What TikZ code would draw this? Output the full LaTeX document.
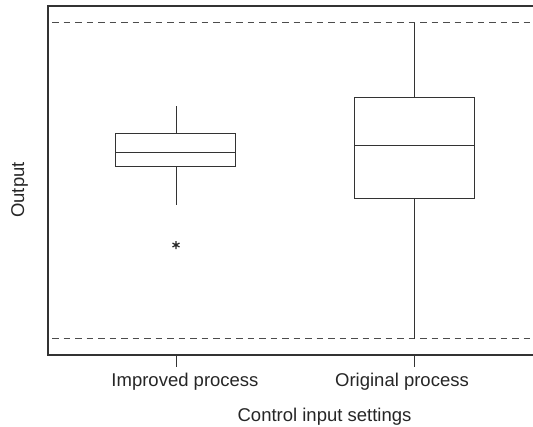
\documentclass[tikz,border=0pt]{standalone}
\usepackage{fontspec}
\setmainfont{Liberation Sans}
\usetikzlibrary{plotmarks}
\begin{document}
\begin{tikzpicture}[x=1pt,y=-1pt,
  frame/.style={draw=black!80,line width=1.4pt},
  boxline/.style={draw=black!80,line width=1pt},
  limit/.style={draw=black!70,line width=1.4pt,dash pattern=on 6.5pt off 5pt,dash phase=-3pt},
  lbl/.style={font=\fontsize{18.5}{20}\selectfont,text=black!85,inner sep=0pt,anchor=base}]
\useasboundingbox (0,0) rectangle (533,426);
% frame
\draw[frame] (533,6) -- (48,6) -- (48,355) -- (533,355);
% limit lines
\draw[limit] (49,22.7) -- (533,22.7);
\draw[limit] (49,338.7) -- (533,338.7);
% ticks
\draw[boxline] (176,355) -- (176,367);
\draw[boxline] (414,355) -- (414,367);
% improved process box
\draw[boxline] (176,106) -- (176,133.3);
\draw[boxline] (176,166) -- (176,205);
\draw[boxline] (115.7,133.3) rectangle (235.7,166);
\draw[boxline] (115.7,152) -- (235.7,152);
\coordinate (outlier) at (176,245);
\draw[black!85,line width=1.2pt] plot[mark=asterisk,mark size=4pt] coordinates {(outlier)};
% original process box
\draw[boxline] (414,22.7) -- (414,97);
\draw[boxline] (414,198) -- (414,338.7);
\draw[boxline] (354.3,97) rectangle (474,198);
\draw[boxline] (354.3,145) -- (474,145);
% labels
\node[lbl] (l1) at (185,386.7) {Improved process};
\node[lbl] (l2) at (402,386.7) {Original process};
\node[lbl] (xl) at (324.5,421) {Control input settings};
\node[lbl,rotate=90] (yl) at (24,190) {Output};
\end{tikzpicture}
\end{document}
